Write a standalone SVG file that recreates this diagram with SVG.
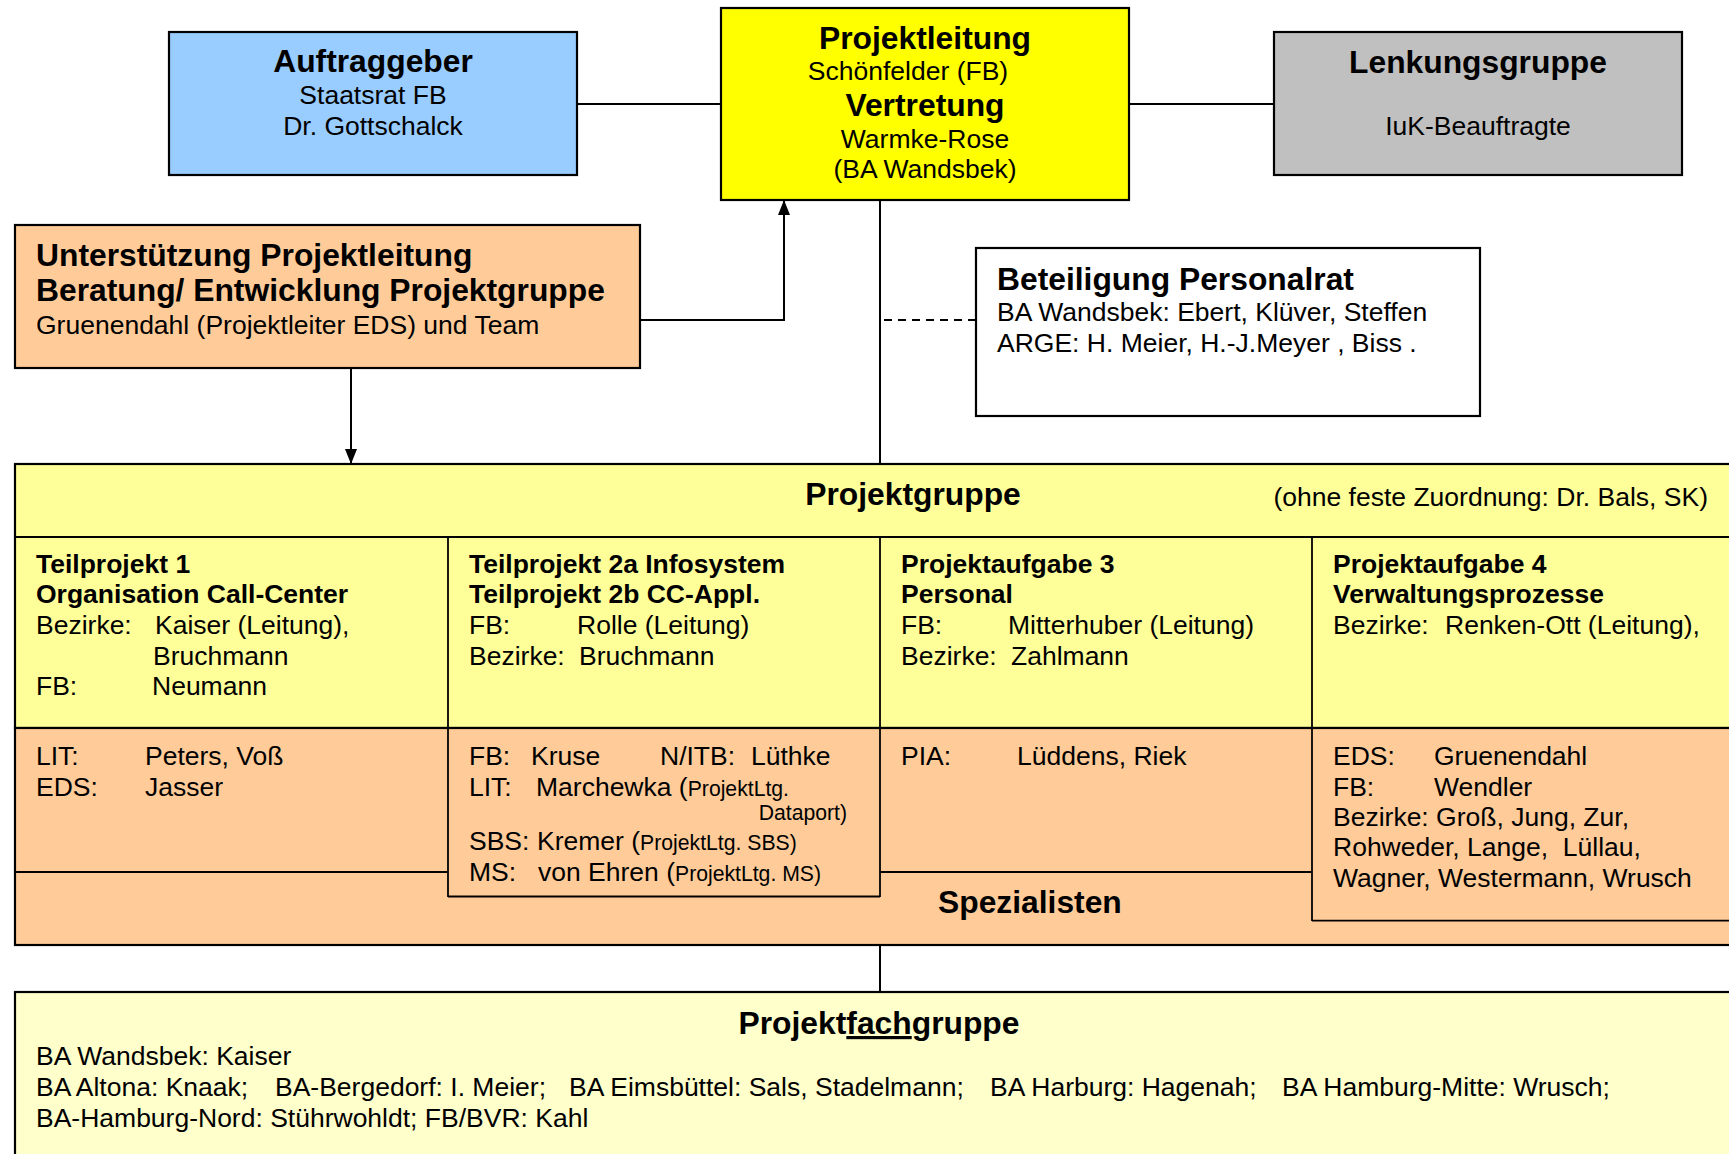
<svg xmlns="http://www.w3.org/2000/svg" width="1729" height="1154" viewBox="0 0 1729 1154">
  <style>
    text { font-family: "Liberation Sans", Arial, sans-serif; fill: #000; }
    .t  { font-size: 31.8px; font-weight: bold; }
    .h  { font-size: 26.5px; font-weight: bold; }
    .r  { font-size: 26.5px; }
    .s  { font-size: 21.2px; }
    .c  { text-anchor: middle; }
    .box { stroke: #000; stroke-width: 2.2; }
    .div { stroke: #000; stroke-width: 1.8; fill: none; }
    .conn { stroke: #000; stroke-width: 2; fill: none; }
  </style>
  <defs>
    <marker id="arrow" viewBox="0 0 15 12" refX="15" refY="6" markerWidth="15" markerHeight="12" markerUnits="userSpaceOnUse" orient="auto">
      <path d="M0,0 L15,6 L0,12 z" fill="#000"/>
    </marker>
  </defs>
  <rect width="1729" height="1154" fill="#fff"/>

  <!-- connectors -->
  <g id="connectors">
    <line class="conn" x1="577" y1="104" x2="721" y2="104"/>
    <line class="conn" x1="1129" y1="104" x2="1274" y2="104"/>
    <polyline class="conn" points="640,320 784,320 784,200" marker-end="url(#arrow)"/>
    <line class="conn" x1="351" y1="368" x2="351" y2="464" marker-end="url(#arrow)"/>
    <line class="conn" x1="880" y1="200" x2="880" y2="464"/>
    <line class="conn" x1="884" y1="320" x2="976" y2="320" stroke-dasharray="8 6"/>
    <line class="conn" x1="880" y1="945" x2="880" y2="992"/>
  </g>

  <g id="auftraggeber">
    <rect class="box" x="169" y="32" width="408" height="143" fill="#99CCFF"/>
    <text class="t c" x="373" y="72">Auftraggeber</text>
    <text class="r c" x="373" y="104">Staatsrat FB</text>
    <text class="r c" x="373" y="135">Dr. Gottschalck</text>
  </g>

  <g id="projektleitung">
    <rect class="box" x="721" y="8" width="408" height="192" fill="#FFFF00"/>
    <text class="t c" x="925" y="49">Projektleitung</text>
    <text class="r c" x="908" y="80">Schönfelder (FB)</text>
    <text class="t c" x="925" y="116">Vertretung</text>
    <text class="r c" x="925" y="148">Warmke-Rose</text>
    <text class="r c" x="925" y="178">(BA Wandsbek)</text>
  </g>

  <g id="lenkungsgruppe">
    <rect class="box" x="1274" y="32" width="408" height="143" fill="#C0C0C0"/>
    <text class="t c" x="1478" y="73">Lenkungsgruppe</text>
    <text class="r c" x="1478" y="135">IuK-Beauftragte</text>
  </g>

  <g id="unterstuetzung">
    <rect class="box" x="15" y="225" width="625" height="143" fill="#FFCC99"/>
    <text class="t" x="36" y="266">Unterstützung Projektleitung</text>
    <text class="t" x="36" y="301">Beratung/ Entwicklung Projektgruppe</text>
    <text class="r" x="36" y="334">Gruenendahl (Projektleiter EDS) und Team</text>
  </g>

  <g id="personalrat">
    <rect class="box" x="976" y="248" width="504" height="168" fill="#fff"/>
    <text class="t" x="997" y="290">Beteiligung Personalrat</text>
    <text class="r" x="997" y="321">BA Wandsbek: Ebert, Klüver, Steffen</text>
    <text class="r" x="997" y="352">ARGE: H. Meier, H.-J.Meyer , Biss .</text>
  </g>

  <g id="projektgruppe">
    <!-- outer frame: yellow header and project row, orange specialists band -->
    <rect class="box" x="15" y="464" width="1730" height="264" fill="#FFFF99"/>
    <rect class="box" x="15" y="728" width="1730" height="217" fill="#FFCC99"/>
    <line class="div" x1="15" y1="537" x2="1745" y2="537"/>
    <text class="t c" x="913" y="505">Projektgruppe</text>
    <text class="r" x="1708" y="506" text-anchor="end">(ohne feste Zuordnung: Dr. Bals, SK)</text>
    <text class="t" x="938" y="913">Spezialisten</text>
  </g>

  <g id="teilprojekt1">
    <line class="div" x1="448" y1="537" x2="448" y2="897"/>
    <line class="div" x1="15" y1="872" x2="448" y2="872"/>
    <text class="h" x="36" y="573">Teilprojekt 1</text>
    <text class="h" x="36" y="603">Organisation Call-Center</text>
    <text class="r" y="634"><tspan x="36">Bezirke:</tspan><tspan x="155">Kaiser (Leitung),</tspan></text>
    <text class="r" x="153" y="665">Bruchmann</text>
    <text class="r" y="695"><tspan x="36">FB:</tspan><tspan x="152">Neumann</tspan></text>
    <text class="r" y="765"><tspan x="36">LIT:</tspan><tspan x="145">Peters, Voß</tspan></text>
    <text class="r" y="796"><tspan x="36">EDS:</tspan><tspan x="145">Jasser</tspan></text>
  </g>

  <g id="teilprojekt2">
    <line class="div" x1="880" y1="537" x2="880" y2="897"/>
    <line class="div" x1="448" y1="896.5" x2="880" y2="896.5"/>
    <text class="h" x="469" y="573">Teilprojekt 2a Infosystem</text>
    <text class="h" x="469" y="603">Teilprojekt 2b CC-Appl.</text>
    <text class="r" y="634"><tspan x="469">FB:</tspan><tspan x="577">Rolle (Leitung)</tspan></text>
    <text class="r" y="665"><tspan x="469">Bezirke:</tspan><tspan x="579">Bruchmann</tspan></text>
    <text class="r" y="765"><tspan x="469">FB:</tspan><tspan x="531">Kruse</tspan><tspan x="660">N/ITB:</tspan><tspan x="751">Lüthke</tspan></text>
    <text class="r" y="796"><tspan x="469">LIT:</tspan><tspan x="536">Marchewka (</tspan><tspan class="s">ProjektLtg.</tspan></text>
    <text class="s" x="847" y="820" text-anchor="end">Dataport)</text>
    <text class="r" y="850"><tspan x="469">SBS:</tspan><tspan x="537">Kremer (</tspan><tspan class="s">ProjektLtg. SBS)</tspan></text>
    <text class="r" y="881"><tspan x="469">MS:</tspan><tspan x="538">von Ehren (</tspan><tspan class="s">ProjektLtg. MS)</tspan></text>
  </g>

  <g id="projektaufgabe3">
    <line class="div" x1="1312" y1="537" x2="1312" y2="921"/>
    <line class="div" x1="880" y1="872" x2="1312" y2="872"/>
    <text class="h" x="901" y="573">Projektaufgabe 3</text>
    <text class="h" x="901" y="603">Personal</text>
    <text class="r" y="634"><tspan x="901">FB:</tspan><tspan x="1008">Mitterhuber (Leitung)</tspan></text>
    <text class="r" y="665"><tspan x="901">Bezirke:</tspan><tspan x="1011">Zahlmann</tspan></text>
    <text class="r" y="765"><tspan x="901">PIA:</tspan><tspan x="1017">Lüddens, Riek</tspan></text>
  </g>

  <g id="projektaufgabe4">
    <line class="div" x1="1312" y1="920.7" x2="1745" y2="920.7"/>
    <text class="h" x="1333" y="573">Projektaufgabe 4</text>
    <text class="h" x="1333" y="603">Verwaltungsprozesse</text>
    <text class="r" y="634"><tspan x="1333">Bezirke:</tspan><tspan x="1445">Renken-Ott (Leitung),</tspan></text>
    <text class="r" y="765"><tspan x="1333">EDS:</tspan><tspan x="1434">Gruenendahl</tspan></text>
    <text class="r" y="796"><tspan x="1333">FB:</tspan><tspan x="1434">Wendler</tspan></text>
    <text class="r" x="1333" y="826">Bezirke: Groß, Jung, Zur,</text>
    <text class="r" x="1333" y="856" xml:space="preserve">Rohweder, Lange,  Lüllau,</text>
    <text class="r" x="1333" y="887">Wagner, Westermann, Wrusch</text>
  </g>

  <g id="projektfachgruppe">
    <rect class="box" x="15" y="992" width="1730" height="170" fill="#FFFFCC"/>
    <text class="t c" x="879" y="1034">Projekt<tspan text-decoration="underline">fach</tspan>gruppe</text>
    <text class="r" x="36" y="1065">BA Wandsbek: Kaiser</text>
    <text class="r" y="1096"><tspan x="36">BA Altona: Knaak;</tspan><tspan x="275">BA-Bergedorf: I. Meier;</tspan><tspan x="569">BA Eimsbüttel: Sals, Stadelmann;</tspan><tspan x="990">BA Harburg: Hagenah;</tspan><tspan x="1282">BA Hamburg-Mitte: Wrusch;</tspan></text>
    <text class="r" x="36" y="1127">BA-Hamburg-Nord: Stührwohldt; FB/BVR: Kahl</text>
  </g>
</svg>
